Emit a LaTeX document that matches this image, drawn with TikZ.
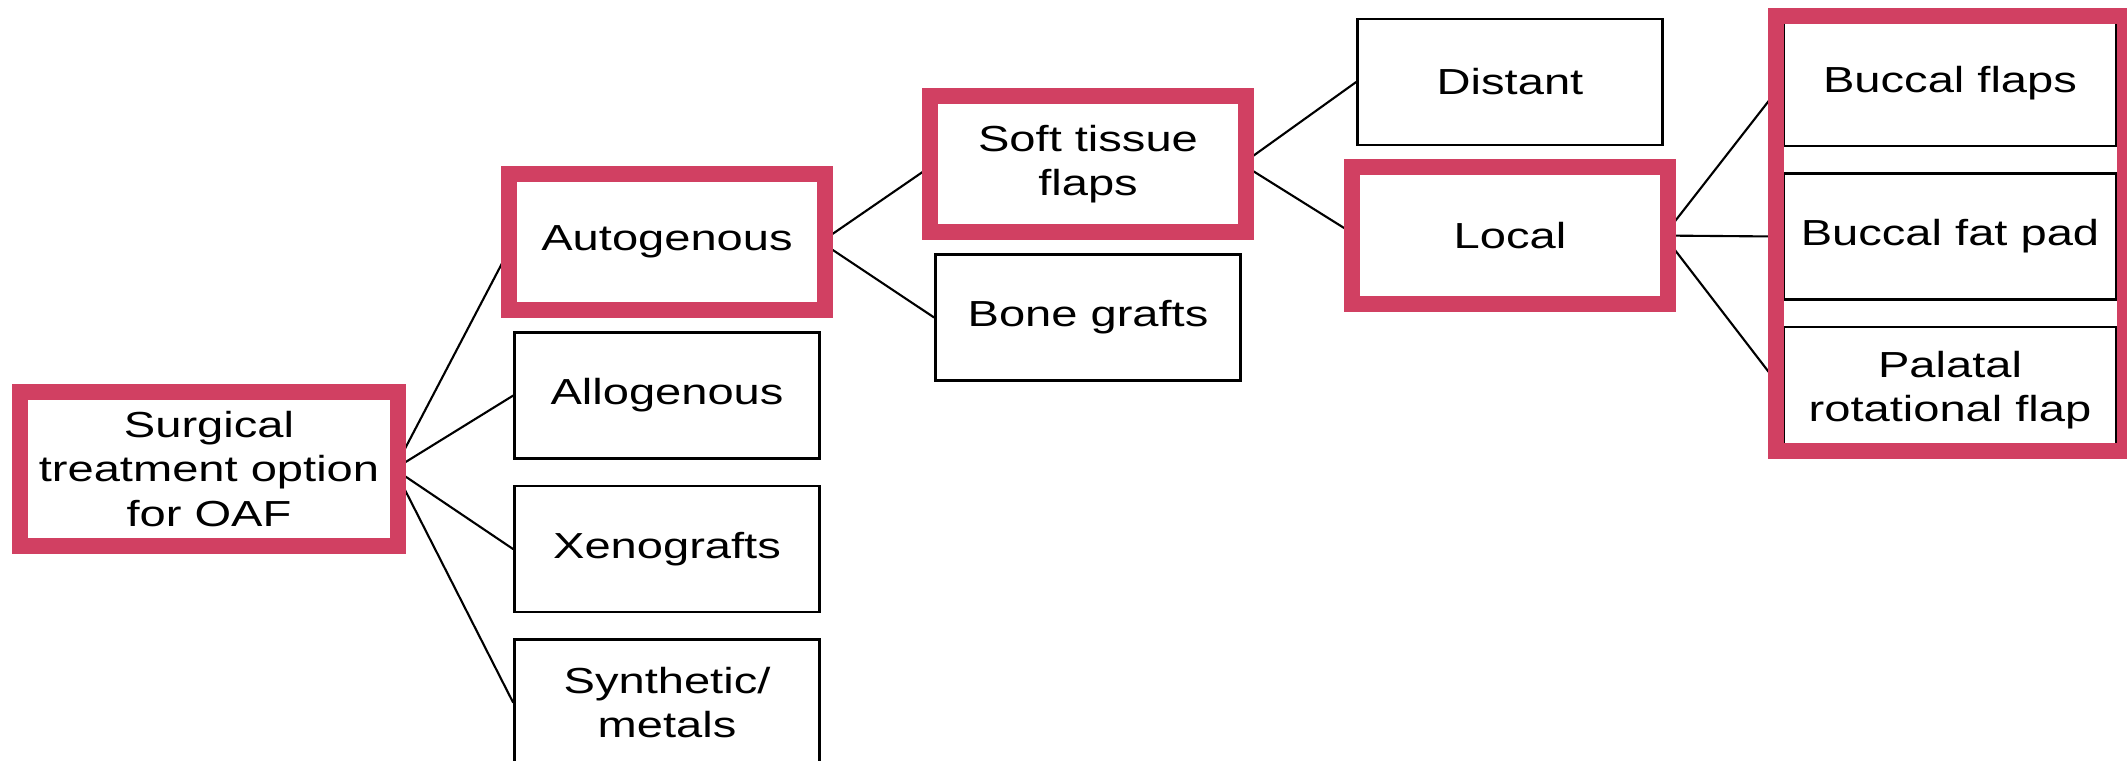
\documentclass[tikz,border=0pt]{standalone}
\usepackage{fontspec}
\setmainfont{Liberation Sans}[FakeStretch=1.3]
\usepackage{xcolor}
\usetikzlibrary{positioning}
\definecolor{oafred}{RGB}{209,64,98}

\begin{document}
\begin{tikzpicture}[
  x=0.01cm, y=0.01cm,
  node distance=2.5mm,
  box/.style={draw, line width=0.7pt, fill=white, align=center, inner sep=0pt,
              font=\fontsize{10.3}{12.6}\selectfont,
              minimum width=3.05cm, minimum height=1.26cm},
  wide/.style={box, minimum width=3.32cm},
  link/.style={line width=0.6pt},
  hl/.style={draw=oafred, line width=1.6mm}]
\useasboundingbox (0,0) rectangle (2127,-760);
\node[box, minimum width=3.68cm, minimum height=1.44cm] (surg) at (209,-469) {Surgical\\treatment option\\for OAF};
\node[box] (auto) at (667,-242) {Autogenous};
\node[box, below=of auto] (allo) {Allogenous};
\node[box, below=of allo] (xeno) {Xenografts};
\node[box, below=of xeno] (synth) {Synthetic/\\metals};
\node[box] (soft) at (1088,-164) {Soft tissue\\flaps};
\node[box, below=of soft] (bone) {Bone grafts};
\node[box] (dist) at (1510,-82) {Distant};
\node[box, below=of dist] (local) {Local};
\node[wide] (flaps) at (1950,-83) {Buccal flaps};
\node[wide, below=of flaps] (fatpad) {Buccal fat pad};
\node[wide, below=of fatpad] (palatal) {Palatal\\rotational flap};
\foreach \a/\b in {surg/auto,surg/allo,surg/xeno,surg/synth,auto/soft,auto/bone,soft/dist,soft/local,local/flaps,local/fatpad,local/palatal}
  \draw[link] (\a.east) -- (\b.west);
% highlighted path
\foreach \n in {surg,auto,soft,local}
  \draw[hl] ([shift={(-4,4)}]\n.north west) rectangle ([shift={(4,-4)}]\n.south east);
\draw[hl] ([shift={(-7,3)}]flaps.north west) rectangle ([shift={(8,3)}]palatal.south east);
\end{tikzpicture}
\end{document}
